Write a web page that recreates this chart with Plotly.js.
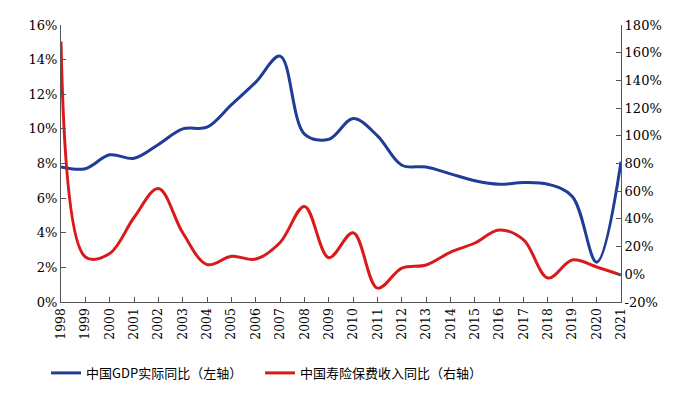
<!DOCTYPE html>
<html>
<head>
<meta charset="utf-8">
<script src="https://cdn.plot.ly/plotly-3.0.1.min.js"></script>
<style>html,body{margin:0;padding:0;background:#fff;}#chart{width:687px;height:393px;}</style>
</head>
<body>
<div id="chart"></div>
<script>
const years = [1998,1999,2000,2001,2002,2003,2004,2005,2006,2007,2008,2009,2010,2011,2012,2013,2014,2015,2016,2017,2018,2019,2020,2021];
const yearLabels = years.map(String);
const gdpGrowth = [7.8,7.7,8.5,8.3,9.1,10.0,10.1,11.4,12.7,14.2,9.7,9.4,10.6,9.6,7.9,7.8,7.4,7.0,6.8,6.9,6.8,6.1,2.3,8.1];
const lifePremiumGrowth = [168,12.5,15,41,62,30,7,13,11,23,49,12,30,-10,4.5,6.7,16,22.6,32,24.8,-2.7,10.3,5.3,-0.5];
const leftTicks = [0,2,4,6,8,10,12,14,16];
const rightTicks = [-20,0,20,40,60,80,100,120,140,160,180];
const seriesNames = ['中国GDP实际同比（左轴）','中国寿险保费收入同比（右轴）'];

const serif = '"DejaVu Serif", "Liberation Serif", serif';
const tickFont = {family:serif, size:13, color:'#000'};
const traces = [
  {x:years, y:gdpGrowth, name:seriesNames[0], type:'scatter', mode:'lines',
   line:{color:'#1F3C96', width:3, shape:'spline', smoothing:1}, yaxis:'y'},
  {x:years, y:lifePremiumGrowth, name:seriesNames[1], type:'scatter', mode:'lines',
   line:{color:'#DA1A1A', width:3, shape:'spline', smoothing:1}, yaxis:'y2'}
];
const layout = {
  width:687, height:393,
  margin:{l:61, r:66, t:25, b:91},
  paper_bgcolor:'#fff', plot_bgcolor:'#fff',
  showlegend:true,
  legend:{orientation:'h', xref:'container', x:0.067, xanchor:'left', yref:'container', y:0.051, yanchor:'middle',
    font:{family:'"Noto Sans CJK SC", sans-serif', size:13, color:'#000'},
    entrywidth:169, entrywidthmode:'pixels', traceorder:'normal'},
  xaxis:{range:[1998,2021], tickmode:'array', tickvals:years, ticktext:yearLabels, automargin:false,
    tickangle:-90, ticks:'inside', ticklen:5, tickcolor:'#555', showline:true, linecolor:'#555', linewidth:1,
    showgrid:false, zeroline:false, tickfont:{family:serif, size:12.5, color:'#000'}, fixedrange:true},
  yaxis:{range:[0,16], tickmode:'array', tickvals:leftTicks, ticktext:leftTicks.map(v=>v+'%'), automargin:false,
    ticks:'inside', ticklen:5, tickcolor:'#555', showline:true, linecolor:'#555', linewidth:1,
    showgrid:false, zeroline:false, tickfont:tickFont},
  yaxis2:{range:[-20,180], overlaying:'y', side:'right', tickmode:'array', tickvals:rightTicks, automargin:false,
    ticktext:rightTicks.map(v=>v+'%'), ticks:'inside', ticklen:5, tickcolor:'#555', showline:true,
    linecolor:'#555', linewidth:1, showgrid:false, zeroline:false, tickfont:tickFont}
};
Plotly.newPlot('chart', traces, layout, {displayModeBar:false, staticPlot:true});
</script>
</body>
</html>
